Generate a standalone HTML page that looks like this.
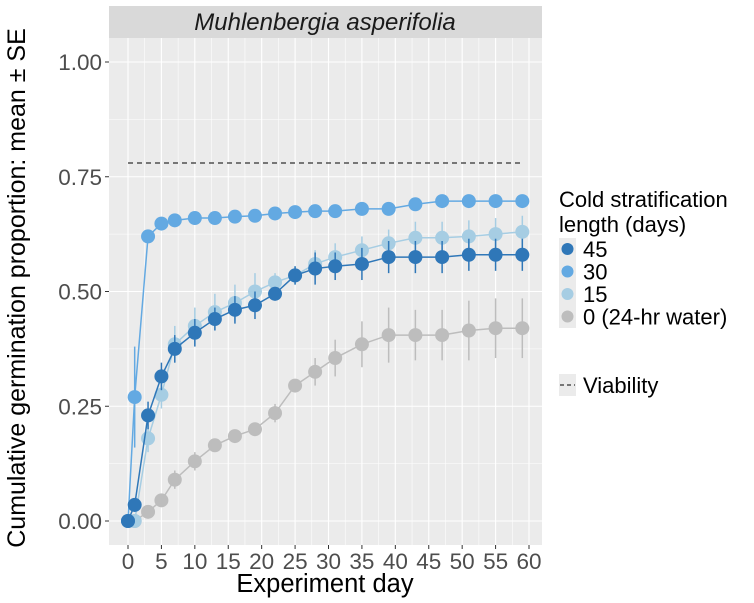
<!DOCTYPE html>
<html><head><meta charset="utf-8"><style>
body{margin:0;background:#fff;}
svg{display:block;font-family:"Liberation Sans",Arial,sans-serif;}
</style></head><body>
<svg id="chart" width="754" height="603" viewBox="0 0 754 603">
<rect x="109" y="6" width="433" height="32" fill="#d9d9d9"/>
<text x="325" y="30" text-anchor="middle" font-size="24" font-style="italic" fill="#1a1a1a">Muhlenbergia asperifolia</text>
<rect x="109" y="38" width="433" height="507" fill="#ebebeb"/>
<g id="grid"></g>
<g id="marks"></g>
<g id="axes"></g>
<text x="325" y="592" text-anchor="middle" font-size="25.5" fill="#000">Experiment day</text>
<text transform="translate(25,288) rotate(-90)" text-anchor="middle" font-size="25" fill="#000">Cumulative germination proportion: mean ± SE</text>
<g id="legend">
<text x="559" y="207" font-size="22" fill="#000">Cold stratification</text>
<text x="559" y="232" font-size="22" fill="#000">length (days)</text>
</g>
</svg>
<script>
const days=[0,1,3,5,7,10,13,16,19,22,25,28,31,35,39,43,47,51,55,59];
const s45=[0,0.035,0.23,0.315,0.375,0.41,0.44,0.46,0.47,0.495,0.535,0.55,0.555,0.56,0.575,0.575,0.575,0.58,0.58,0.58];
const e45=[0,0.015,0.03,0.03,0.03,0.03,0.025,0.03,0.03,0.015,0.02,0.035,0.03,0.035,0.035,0.035,0.035,0.035,0.035,0.035];
const s30=[0,0.27,0.62,0.648,0.655,0.66,0.66,0.663,0.665,0.67,0.673,0.675,0.675,0.68,0.68,0.69,0.697,0.697,0.697,0.697];
const e30=[0,0.11,0,0,0,0,0,0,0,0,0,0,0,0,0,0,0,0,0,0];
const s15=[0,0,0.18,0.275,0.385,0.425,0.455,0.475,0.5,0.52,0.535,0.56,0.575,0.59,0.605,0.617,0.617,0.62,0.625,0.63];
const e15=[0,0,0.03,0.03,0.04,0.04,0.04,0.04,0.04,0.02,0.02,0.03,0.03,0.03,0.03,0.035,0.035,0.035,0.035,0.035];
const s0=[0,0,0.02,0.045,0.09,0.13,0.165,0.185,0.2,0.235,0.295,0.325,0.355,0.385,0.405,0.405,0.405,0.415,0.42,0.42];
const e0=[0,0,0,0,0.02,0.02,0,0,0,0.02,0,0.03,0.04,0.05,0.06,0.055,0.055,0.065,0.065,0.065];
const viability=0.78;
const xTicks=[0,5,10,15,20,25,30,35,40,45,50,55,60];
const yTicks=[0,0.25,0.5,0.75,1.0];
const yTickLabels=["0.00","0.25","0.50","0.75","1.00"];
const seriesNames=["45","30","15","0 (24-hr water)"];
const NS="http://www.w3.org/2000/svg";
const X=d=>128+d*(529-128)/60;
const Y=v=>521-v*459;
function mk(tag,attrs,parent){const e=document.createElementNS(NS,tag);for(const k in attrs)e.setAttribute(k,attrs[k]);parent.appendChild(e);return e;}
const grid=document.getElementById('grid'),marks=document.getElementById('marks'),axes=document.getElementById('axes'),legend=document.getElementById('legend');
for(let i=0;i<xTicks.length;i++){
 const l=mk('line',{x1:X(xTicks[i]),x2:X(xTicks[i]),y1:38,y2:545,stroke:'#fff','stroke-width':1.1},grid);
 
 if(i<xTicks.length-1){const m=(xTicks[i]+xTicks[i+1])/2;
 const l2=mk('line',{x1:X(m),x2:X(m),y1:38,y2:545,stroke:'#fff','stroke-width':0.55},grid);
 }
 const t=mk('line',{x1:X(xTicks[i]),x2:X(xTicks[i]),y1:545,y2:549,stroke:'#333'},axes);
 
 const tx=mk('text',{x:X(xTicks[i]),y:569,'text-anchor':'middle','font-size':22.5,fill:'#4d4d4d'},axes);
 tx.textContent=xTicks[i];
}
for(let i=0;i<yTicks.length;i++){
 const l=mk('line',{x1:109,x2:542,y1:Y(yTicks[i]),y2:Y(yTicks[i]),stroke:'#fff','stroke-width':1.1},grid);
 
 if(i<yTicks.length-1){const m=(yTicks[i]+yTicks[i+1])/2;
 const l2=mk('line',{x1:109,x2:542,y1:Y(m),y2:Y(m),stroke:'#fff','stroke-width':0.55},grid);
 }
 const t=mk('line',{x1:105,x2:109,y1:Y(yTicks[i]),y2:Y(yTicks[i]),stroke:'#333'},axes);
 
 const tx=mk('text',{x:102,y:Y(yTicks[i])+8,'text-anchor':'end','font-size':22.5,fill:'#4d4d4d'},axes);
 tx.textContent=yTickLabels[i];
}
const vl=mk('line',{x1:X(0),x2:X(59),y1:Y(viability),y2:Y(viability),stroke:'#000','stroke-width':1,'stroke-dasharray':'5,4'},marks);

const series=[[s0,e0,'#bdbdbd','series-0'],[s15,e15,'#a6cde3','series-15'],[s30,e30,'#63a9e2','series-30'],[s45,e45,'#2f77b8','series-45']];
series.forEach(([v,e,c,n])=>{
 const g=mk('g',{},marks);
 for(let i=0;i<days.length;i++){if(e[i]>0){const b=mk('line',{x1:X(days[i]),x2:X(days[i]),y1:Y(v[i]-e[i]),y2:Y(v[i]+e[i]),stroke:c,'stroke-width':1.5},g);
 }}
 const p=mk('polyline',{points:days.map((d,i)=>X(d)+','+Y(v[i])).join(' '),fill:'none',stroke:c,'stroke-width':1.5},g);
 
 for(let i=0;i<days.length;i++){const ci=mk('circle',{cx:X(days[i]),cy:Y(v[i]),r:7,fill:c},g);
 }
});
const lc=['#2f77b8','#63a9e2','#a6cde3','#bdbdbd'];
for(let i=0;i<4;i++){const y=249+i*22.5;
 const bg=mk('rect',{x:559,y:y-11,width:17,height:22.5,fill:'#ebebeb'},legend);
 
 const c=mk('circle',{cx:567.5,cy:y,r:6,fill:lc[i]},legend);
 
 const t=mk('text',{x:583,y:y+8,'font-size':22,fill:'#000'},legend);t.textContent=seriesNames[i];
 }
const vb=mk('rect',{x:559,y:374,width:17,height:22,fill:'#ebebeb'},legend);

const vk=mk('line',{x1:560,x2:575,y1:385,y2:385,stroke:'#000','stroke-dasharray':'4,3'},legend);

const vt=mk('text',{x:583,y:393,'font-size':22,fill:'#000'},legend);vt.textContent='Viability';

</script>
</body></html>
